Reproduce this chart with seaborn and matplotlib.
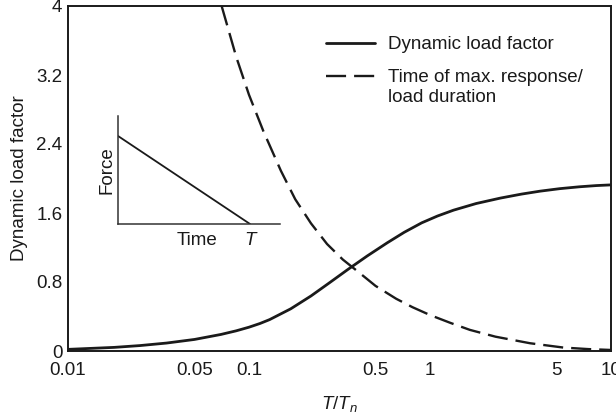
import numpy as np
import pandas as pd
import matplotlib
matplotlib.use("Agg")
import matplotlib.pyplot as plt
import seaborn as sns

# ---- data ----
dlf_x = [0.01, 0.018, 0.025, 0.035, 0.05, 0.07, 0.085, 0.1, 0.115, 0.13, 0.17, 0.22,
         0.28, 0.35, 0.45, 0.58, 0.72, 0.9, 1.1, 1.35, 1.8, 2.45, 3.2, 4.05,
         5.2, 6.7, 8.3, 10.0]
dlf_y = [0.019, 0.042, 0.063, 0.092, 0.134, 0.192, 0.234, 0.276, 0.319, 0.364, 0.489, 0.638,
         0.795, 0.942, 1.102, 1.254, 1.376, 1.486, 1.565, 1.633, 1.71, 1.773, 1.819, 1.853,
         1.882, 1.904, 1.918, 1.926]

tmax_x = [0.0706, 0.085, 0.1, 0.12, 0.15, 0.18, 0.22, 0.27, 0.33, 0.4, 0.5, 0.65,
          0.8, 1.0, 1.3, 1.66, 2.3, 3.57, 5.45, 7.5, 10.0]
tmax_y = [4.0, 3.41, 2.97, 2.55, 2.09, 1.76, 1.48, 1.24, 1.06, 0.92, 0.755, 0.606,
          0.508, 0.417, 0.325, 0.245, 0.166, 0.09, 0.04, 0.022, 0.012]

x_ticks = [0.01, 0.05, 0.1, 0.5, 1, 5, 10]
x_tick_labels = ["0.01", "0.05", "0.1", "0.5", "1", "5", "10"]
y_ticks = [0, 0.8, 1.6, 2.4, 3.2, 4]
y_tick_labels = ["0", "0.8", "1.6", "2.4", "3.2", "4"]

labels = ["Dynamic load factor", "Time of max. response/\nload duration"]

# inset (triangular pulse) data
pulse_t = [0.0, 1.0]
pulse_f = [1.0, 0.0]

# ---- styling ----
sns.set_theme(style="white")
plt.rcParams["font.family"] = ["Liberation Sans", "DejaVu Sans"]
plt.rcParams["mathtext.fontset"] = "custom"
plt.rcParams["mathtext.it"] = "Liberation Sans:italic"
plt.rcParams["mathtext.rm"] = "Liberation Sans"
FS = 13.5
ink = "#1a1a1a"

df1 = pd.DataFrame({"x": dlf_x, "y": dlf_y})
df2 = pd.DataFrame({"x": tmax_x, "y": tmax_y})

fig = plt.figure(figsize=(6.16, 4.16), dpi=100)
ax = fig.add_axes([68 / 616, 1 - 351 / 416, (611 - 68) / 616, (351 - 6) / 416])

sns.lineplot(data=df1, x="x", y="y", ax=ax, color=ink, lw=2.0, label=labels[0])
sns.lineplot(data=df2, x="x", y="y", ax=ax, color=ink, lw=1.7, label=labels[1])
ax.lines[1].set_dashes([8.5, 3.4])

ax.set_xscale("log")
ax.set_xlim(0.01, 10)
ax.set_ylim(0, 4)
ax.set_xticks(x_ticks)
ax.set_xticklabels(x_tick_labels)
ax.xaxis.set_minor_locator(matplotlib.ticker.NullLocator())
ax.set_yticks(y_ticks)
ax.set_yticklabels(y_tick_labels)
ax.tick_params(axis="both", direction="in", length=5, width=0.9, color=ink,
               labelsize=FS, labelcolor=ink)
ax.tick_params(axis="x", pad=8)
ax.tick_params(axis="y", pad=4)
for s in ax.spines.values():
    s.set_linewidth(1.4)
    s.set_color(ink)

ax.set_xlabel(r"$T/T_n$", fontsize=FS, color=ink, labelpad=11)
ax.set_ylabel("Dynamic load factor", fontsize=FS, color=ink, labelpad=6)

leg = ax.legend(loc="upper left", bbox_to_anchor=(0.475, 0.912), frameon=False,
                fontsize=FS, handlelength=2.6, handletextpad=0.7, labelspacing=0.85,
                borderaxespad=0, borderpad=0)
for t in leg.get_texts():
    t.set_color(ink)
try:
    for col in leg._legend_handle_box.get_children():
        for item in col.get_children():
            item.align = "top"
except Exception:
    pass

# ---- inset ----
ins = fig.add_axes([118 / 616, 1 - 224 / 416, (280 - 118) / 616, (224 - 116) / 416])
sns.lineplot(x=pulse_t, y=pulse_f, ax=ins, color=ink, lw=1.3)
ins.set_xlim(0, 1.227)
ins.set_ylim(0, 1.227)
ins.set_xticks([])
ins.set_yticks([])
ins.patch.set_alpha(0)
for side in ["top", "right"]:
    ins.spines[side].set_visible(False)
for side in ["left", "bottom"]:
    ins.spines[side].set_linewidth(1.1)
    ins.spines[side].set_color("#333333")
ins.set_xlabel("Time", fontsize=FS, color=ink, labelpad=2)
ins.xaxis.set_label_coords(0.49, -0.07, transform=ins.transAxes)
ins.xaxis.label.set_va("top")
ins.set_ylabel("Force", fontsize=FS, color=ink, labelpad=2)
ins.text(1.0, -0.07, "T", transform=ins.get_xaxis_transform(), fontsize=FS,
         style="italic", ha="center", va="top", color=ink)

fig.savefig("out.png", dpi=100)
